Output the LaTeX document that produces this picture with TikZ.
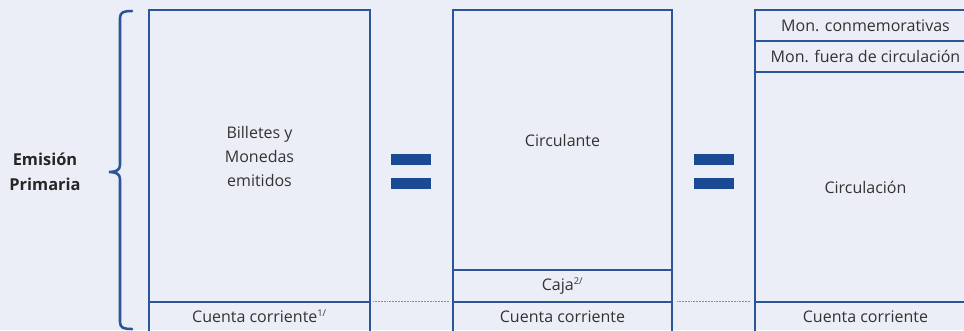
\documentclass[tikz,border=0pt]{standalone}
\usepackage{fontspec}
\setmainfont{Open Sans}
\usetikzlibrary{fit,calc}
\definecolor{bg}{HTML}{ECEEF7}
\definecolor{edge}{HTML}{2A5699}
\definecolor{eqblue}{HTML}{1A4A94}
\definecolor{txt}{HTML}{333333}
\tikzset{
  cell/.style={draw=edge, line width=0.8pt, inner sep=0pt, fit={#1}},
  lbl/.style={text=txt, font=\fontsize{12}{18}\selectfont, align=center, inner sep=0pt},
  eqbar/.style={fill=eqblue, draw=none},
  dots/.style={draw=gray!90, line width=0.8pt, dash pattern=on 0.7pt off 0.45pt}
}
\begin{document}
\begin{tikzpicture}[x=0.75pt,y=-0.75pt]
\useasboundingbox (0,0) rectangle (964,330);
\fill[bg] (0,0) rectangle (964,330);
\clip (0,0) rectangle (964,330);
% column 1
\node[cell={(149,10)(370,302)}] (b1) {};
\node[cell={(149,302)(370,334)}] (c1) {};
\node[lbl] (t1) at (b1.center) {Billetes y\\Monedas\\emitidos};
\node[lbl] (tc1) at ($(c1.north)+(0,15)$) {Cuenta corriente\textsuperscript{\fontsize{7}{7}\selectfont 1/}};
% column 2
\node[cell={(453,10)(672,270)}] (b2) {};
\node[cell={(453,270)(672,302)}] (k2) {};
\node[cell={(453,302)(672,334)}] (c2) {};
\node[lbl] (t2) at (b2.center) {Circulante};
\node[lbl] (tk2) at (k2.center) {Caja\textsuperscript{\fontsize{7}{7}\selectfont 2/}};
\node[lbl] (tc2) at ($(c2.north)+(0,15)$) {Cuenta corriente};
% column 3
\node[cell={(755,10)(976,41)}] (m3) {};
\node[cell={(755,41)(976,72)}] (f3) {};
\node[cell={(755,72)(976,302)}] (b3) {};
\node[cell={(755,302)(976,334)}] (c3) {};
\node[lbl] (tm3) at (m3.center) {Mon. conmemorativas};
\node[lbl] (tf3) at (f3.center) {Mon. fuera de circulación};
\node[lbl] (t3) at (b3.center) {Circulación};
\node[lbl] (tc3) at ($(c3.north)+(0,15)$) {Cuenta corriente};
% dotted connectors
\draw[dots, shorten <=2pt, shorten >=3pt] (c1.north east) -- (c2.north west);
\draw[dots, shorten <=3.5pt, shorten >=3.5pt] (c2.north east) -- (c3.north west);
% equals signs
\fill[eqbar] (391,154) rectangle (431,165);
\fill[eqbar] (391,178) rectangle (431,189);
\fill[eqbar] (694,154) rectangle (734,165);
\fill[eqbar] (694,178) rectangle (734,189);
% brace
\draw[edge, line width=1.9pt, line cap=round]
  (132,11) .. controls (124,11) and (120,12) .. (120,18)
  -- (120,165) .. controls (120,170) and (116,172) .. (109,172)
  .. controls (116,172) and (120,174) .. (120,179)
  -- (120,322) .. controls (120,328) and (124,329) .. (132,329);
% label
\node[text=black!85, font=\fontsize{12.3}{19}\selectfont\bfseries, align=center, inner sep=0pt] (ep) at (45,172) {Emisión\\Primaria};
\end{tikzpicture}
\end{document}
